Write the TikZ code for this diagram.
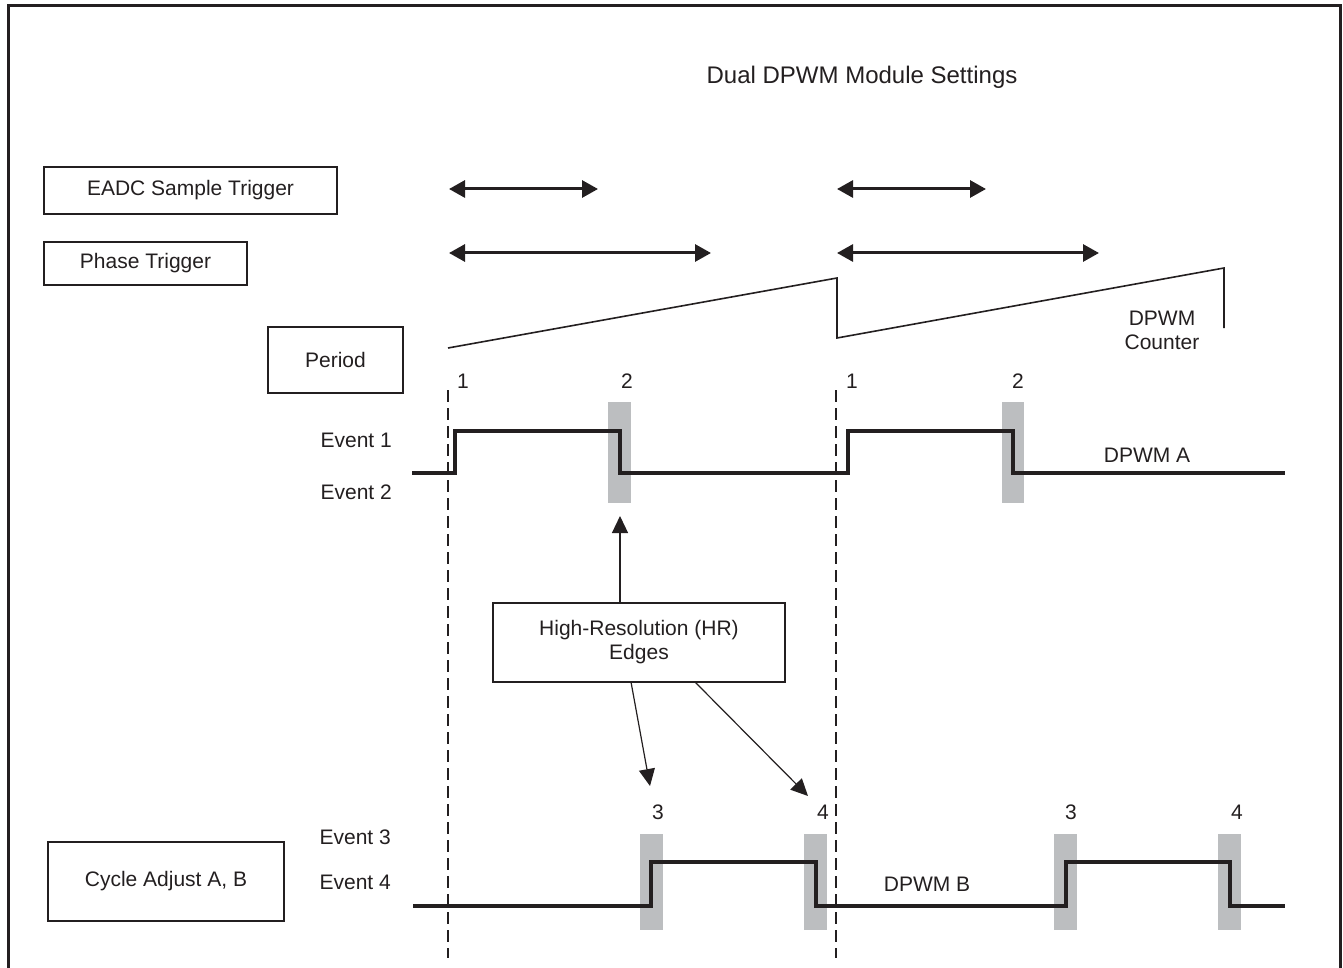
\documentclass[tikz,border=0pt]{standalone}
\usepackage{fontspec}
\setmainfont{Liberation Sans}
\usetikzlibrary{arrows.meta}
\definecolor{ink}{RGB}{35,31,32}
\definecolor{hrgray}{RGB}{188,190,192}
\tikzset{
  lbox/.style={draw=ink, line width=1.6pt, inner sep=0pt, align=center, font=\fontsize{21}{26}\selectfont, text=ink},
  lbl/.style={inner sep=0pt, font=\fontsize{21}{26}\selectfont, text=ink},
  dbl/.style={draw=ink, line width=3pt, {Triangle[length=16pt,width=17pt]}-{Triangle[length=16pt,width=17pt]}},
  thinarrow/.style={draw=ink, line width=1.2pt, -{Triangle[length=17pt,width=16pt]}},
  signal/.style={draw=ink, line width=3.5pt, line join=miter},
  saw/.style={draw=ink, line width=1.6pt, line join=miter},
  dashln/.style={draw=ink, line width=1.5pt, dash pattern=on 12pt off 6pt},
  hrbar/.style={fill=hrgray, draw=none},
}
\begin{document}
\begin{tikzpicture}[x=1pt,y=-1pt]
\useasboundingbox (0,0) rectangle (1343,968);
% outer frame
\draw[ink, line width=3pt] (8,975) -- (8,6) -- (1340,6) -- (1340,975);
% title
\node[lbl, font=\fontsize{24}{28}\selectfont] (title) at (862,77) {Dual DPWM Module Settings};
% left boxes
\node[lbox, minimum width=293pt, minimum height=47pt] (eadc) at (190.5,190.5) {EADC Sample Trigger};
\node[lbox, minimum width=203pt, minimum height=43pt] (phase) at (145.5,263.5) {Phase Trigger};
\node[lbox, minimum width=135pt, minimum height=66pt] (period) at (335.5,360) {Period};
\node[lbox, minimum width=236pt, minimum height=79pt] (cycle) at (166,881.5) {Cycle Adjust A, B};
% trigger arrows
\coordinate (e1a) at (449,189); \coordinate (e1b) at (598,189);
\coordinate (e2a) at (837,189); \coordinate (e2b) at (986,189);
\coordinate (p1a) at (449,253); \coordinate (p1b) at (711,253);
\coordinate (p2a) at (837,253); \coordinate (p2b) at (1099,253);
\draw[dbl] (e1a) -- (e1b);
\draw[dbl] (e2a) -- (e2b);
\draw[dbl] (p1a) -- (p1b);
\draw[dbl] (p2a) -- (p2b);
% sawtooth counter
\draw[saw] (448,348) -- (837,278) -- (837,338) -- (1224,268) -- (1224,328);
\node[lbl, align=center, font=\fontsize{21}{24}\selectfont] (cnt) at (1162,330) {DPWM\\Counter};
% event numbers
\node[lbl] (n1a) at (463,381) {1};
\node[lbl] (n2a) at (627,381) {2};
\node[lbl] (n1b) at (852,381) {1};
\node[lbl] (n2b) at (1018,381) {2};
\node[lbl] (n3a) at (658,812) {3};
\node[lbl] (n4a) at (823,812) {4};
\node[lbl] (n3b) at (1071,812) {3};
\node[lbl] (n4b) at (1237,812) {4};
% event labels
\node[lbl, anchor=east] (ev1) at (392,440) {Event 1};
\node[lbl, anchor=east] (ev2) at (392,492) {Event 2};
\node[lbl, anchor=east] (ev3) at (391,837) {Event 3};
\node[lbl, anchor=east] (ev4) at (391,882) {Event 4};
% HR bars
\fill[hrbar] (608,402) rectangle (631,503);
\fill[hrbar] (1002,402) rectangle (1024,503);
\fill[hrbar] (640,834) rectangle (663,930);
\fill[hrbar] (804,834) rectangle (827,930);
\fill[hrbar] (1054,834) rectangle (1077,930);
\fill[hrbar] (1218,834) rectangle (1241,930);
% dashed period lines
\draw[dashln] (448,390) -- (448,958);
\draw[dashln] (836,390) -- (836,958);
% signals
\draw[signal] (412,473) -- (455,473) -- (455,431) -- (620,431) -- (620,473) -- (848,473) -- (848,431) -- (1013,431) -- (1013,473) -- (1285,473);
\draw[signal] (413,906) -- (651,906) -- (651,862) -- (816,862) -- (816,906) -- (1066,906) -- (1066,862) -- (1230,862) -- (1230,906) -- (1285,906);
\node[lbl] (dpwma) at (1147,455) {DPWM A};
\node[lbl] (dpwmb) at (927,884) {DPWM B};
% HR box and arrows
\node[lbox, minimum width=292pt, minimum height=79pt, font=\fontsize{21}{24}\selectfont] (hr) at (639,642.5) {High-Resolution (HR)\\Edges};
\coordinate (tA) at (620,516);
\coordinate (t3) at (650,786);
\coordinate (t4) at (808,796);
\draw[thinarrow] (hr.north -| tA) -- (tA);
\draw[thinarrow] (631,682) -- (t3);
\draw[thinarrow] (695,682) -- (t4);
\end{tikzpicture}
\end{document}
